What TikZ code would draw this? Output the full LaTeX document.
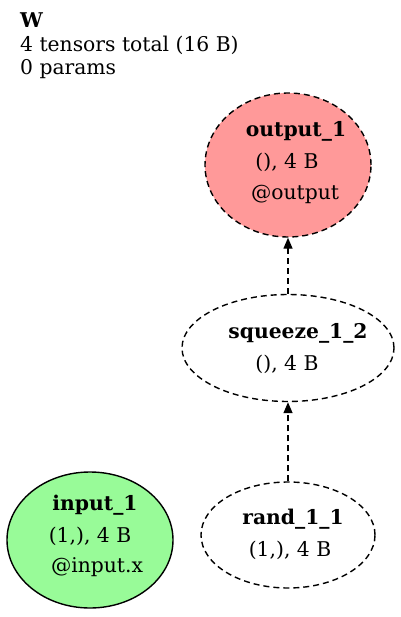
\documentclass[tikz,border=0pt]{standalone}
\usepackage{fontspec}
\setmainfont{DejaVu Serif}
\usetikzlibrary{shapes.geometric,arrows.meta}
\definecolor{outfill}{RGB}{255,153,153}
\definecolor{infill}{RGB}{152,251,152}
\tikzset{
  tensor/.style={ellipse, draw=black, line width=1.4pt, inner sep=0pt},
  dashline/.style={dash pattern=on 6pt off 4pt},
  dashedge/.style={draw=black, line width=1.4pt, dash pattern=on 6pt off 4pt, -{Triangle[length=11pt,width=9pt]}},
  txt/.style={anchor=base, inner sep=0pt, font=\fontsize{20.3}{23}\selectfont},
  btxt/.style={txt, font=\fontsize{20.3}{23}\selectfont\bfseries},
}
\begin{document}
\begin{tikzpicture}[x=1pt,y=-1pt]
\useasboundingbox (0,0) rectangle (400,617);
% title
\node[btxt, anchor=base west] (title) at (20,28) {W};
\node[txt, anchor=base west] (tinfo) at (20,52) {4 tensors total (16 B)};
\node[txt, anchor=base west] (pinfo) at (20,75) {0 params};
% nodes
\node[tensor, dashline, fill=outfill, minimum width=166pt, minimum height=144pt] (out) at (288,165) {};
\node[btxt] (outa) at (296,137) {output\_1};
\node[txt] (outb) at (287,169) {(), 4 B};
\node[txt] (outc) at (295,200) {@output};

\node[tensor, dashline, minimum width=212pt, minimum height=107pt] (sq) at (288,348) {};
\node[btxt] (sqa) at (298,338) {squeeze\_1\_2};
\node[txt] (sqb) at (287,370) {(), 4 B};

\node[tensor, fill=infill, minimum width=166pt, minimum height=136pt] (in) at (90,540) {};
\node[btxt] (ina) at (95,510) {input\_1};
\node[txt] (inb) at (90,542) {(1,), 4 B};
\node[txt] (inc) at (97,572) {@input.x};

\node[tensor, dashline, minimum width=174pt, minimum height=106pt] (rd) at (288,535) {};
\node[btxt] (rda) at (293,524) {rand\_1\_1};
\node[txt] (rdb) at (290,556) {(1,), 4 B};
% edges
\draw[dashedge] (sq.north) -- (out.south);
\draw[dashedge] (rd.north) -- (sq.south);
\end{tikzpicture}
\end{document}
